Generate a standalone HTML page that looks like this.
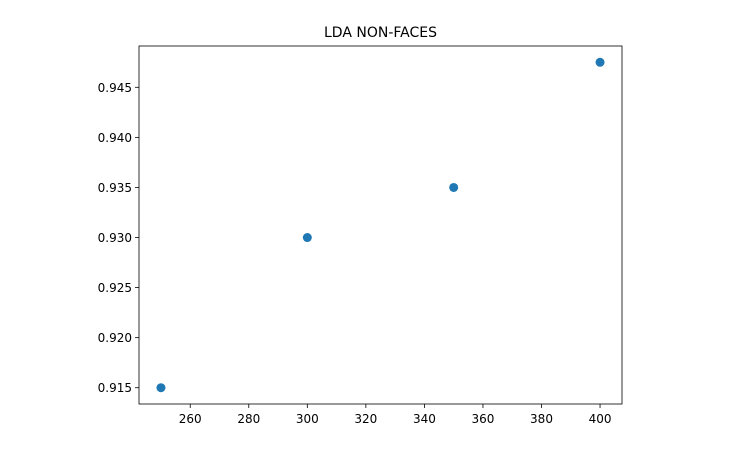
<!DOCTYPE html>
<html><head><meta charset="utf-8"><style>
body{margin:0;background:#fff;}
svg{display:block;font-family:"DejaVu Sans","Liberation Sans",sans-serif;}
</style></head><body>
<svg id="chart" width="737" height="471" viewBox="0 0 737 471"></svg>
<script>
const xValues=[250,300,350,400];
const yValues=[0.915,0.930,0.935,0.9475];
const xTicks=[260,280,300,320,340,360,380,400];
const yTicks=[0.915,0.920,0.925,0.930,0.935,0.940,0.945];
const L=139,R=622,T=46,B=404;
const xMin=242.5,xMax=407.5,yMin=0.913375,yMax=0.949125;
function sx(v){return L+(v-xMin)/(xMax-xMin)*(R-L);}
function sy(v){return B-(v-yMin)/(yMax-yMin)*(B-T);}
const svg=document.getElementById('chart');
const NS='http://www.w3.org/2000/svg';
function mk(tag,attrs,parent){const e=document.createElementNS(NS,tag);for(const k in attrs)e.setAttribute(k,attrs[k]);(parent||svg).appendChild(e);return e;}
const title=mk('text',{x:(L+R)/2,y:37,'text-anchor':'middle','font-size':14,fill:'#000'});


title.textContent='LDA NON-FACES';
xTicks.forEach(t=>{
  const g=mk('g',{});
  
  
  const x=sx(t);
  mk('line',{x1:x,x2:x,y1:B,y2:B+4,stroke:'#000','stroke-width':0.8},g);
  const tx=mk('text',{x:x,y:B+19,'text-anchor':'middle','font-size':12,fill:'#000'},g);
  tx.textContent=String(t);
});
yTicks.forEach(t=>{
  const g=mk('g',{});
  
  
  const y=sy(t);
  mk('line',{x1:L-4,x2:L,y1:y,y2:y,stroke:'#000','stroke-width':0.8},g);
  const tx=mk('text',{x:L-7,y:y+4.5,'text-anchor':'end','font-size':12,fill:'#000'},g);
  tx.textContent=t.toFixed(3);
});
xValues.forEach((v,i)=>{
  const c=mk('circle',{cx:sx(v),cy:sy(yValues[i]),r:4.5,fill:'#1f77b4'});
  
  
});
const frame=mk('rect',{x:L,y:T,width:R-L,height:B-T,fill:'none',stroke:'#000','stroke-width':0.8});


</script>
</body></html>
